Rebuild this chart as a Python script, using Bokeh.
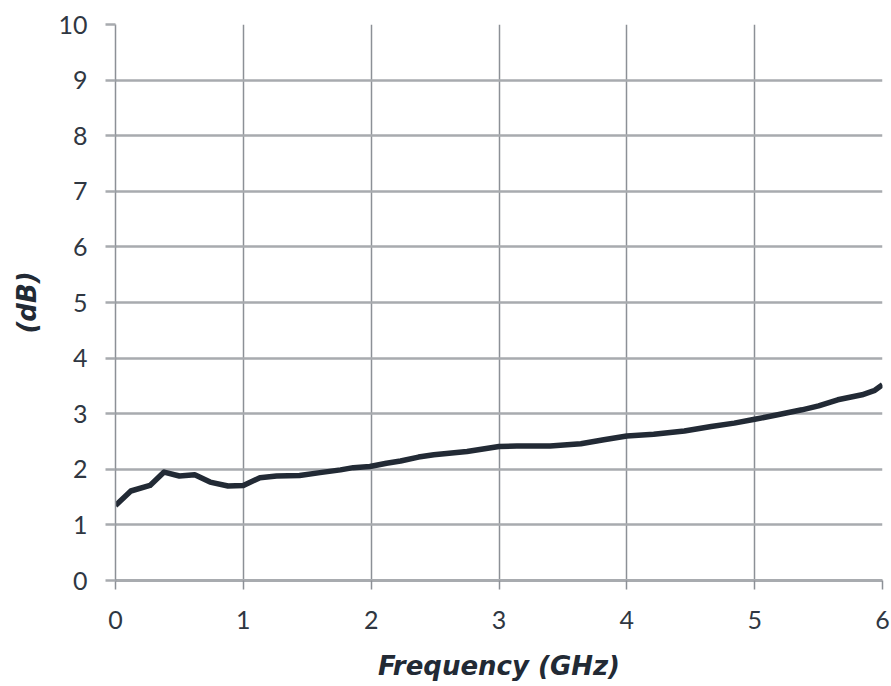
from bokeh.plotting import figure
from bokeh.models import Range1d, FixedTicker
from bokeh.embed import file_html
from bokeh.resources import INLINE

freq_ghz = [0.0, 0.12, 0.27, 0.38, 0.5, 0.62, 0.74, 0.88, 1.0, 1.13, 1.26, 1.44,
            1.6, 1.76, 1.86, 1.99, 2.12, 2.23, 2.37, 2.49, 2.75, 3.0, 3.14, 3.4,
            3.64, 3.82, 4.0, 4.21, 4.45, 4.66, 4.84, 5.0, 5.18, 5.37, 5.5, 5.65,
            5.84, 5.94, 6.0]
noise_db = [1.35, 1.61, 1.71, 1.95, 1.88, 1.9, 1.77, 1.70, 1.71, 1.85, 1.88, 1.89,
            1.94, 1.99, 2.03, 2.05, 2.11, 2.15, 2.22, 2.26, 2.32, 2.41, 2.42, 2.42,
            2.46, 2.53, 2.6, 2.63, 2.69, 2.77, 2.83, 2.9, 2.98, 3.07, 3.14, 3.25,
            3.34, 3.42, 3.52]
x_ticks = [0, 1, 2, 3, 4, 5, 6]
y_ticks = [0, 1, 2, 3, 4, 5, 6, 7, 8, 9, 10]

p = figure(width=891, height=686, output_backend="svg", toolbar_location=None,
           x_range=Range1d(0, 6), y_range=Range1d(0, 10),
           min_border_left=115, min_border_right=9, min_border_top=24,
           min_border_bottom=106)
p.outline_line_color = None
p.background_fill_color = "white"
p.border_fill_color = "white"

p.line(freq_ghz, noise_db, line_color="#222a35", line_width=5.5, line_join="round")

for ax in (p.xaxis[0], p.yaxis[0]):
    ax.major_label_text_font = "Lato"
    ax.major_label_text_font_size = "25px"
    ax.major_label_text_color = "#2f3742"
    ax.minor_tick_line_color = None
    ax.axis_label_text_font = "DejaVu Sans"
    ax.axis_label_text_font_style = "bold italic"
    ax.axis_label_text_font_size = "26px"
    ax.axis_label_text_color = "#222a35"

p.xaxis.ticker = FixedTicker(ticks=x_ticks)
p.yaxis.ticker = FixedTicker(ticks=y_ticks)
p.xaxis.axis_label = "Frequency (GHz)"
p.yaxis.axis_label = "(dB)"

p.xaxis.axis_line_color = "#a8abaf"
p.xaxis.axis_line_width = 3
p.xaxis.major_tick_line_color = "#8c9096"
p.xaxis.major_tick_line_width = 1.5
p.xaxis.major_tick_out = 9
p.xaxis.major_tick_in = 0
p.xaxis.major_label_standoff = 21
p.xaxis.axis_label_standoff = 19

p.yaxis.axis_line_color = "#8c9096"
p.yaxis.axis_line_width = 1.5
p.yaxis.major_tick_line_color = "#a8abaf"
p.yaxis.major_tick_line_width = 2.5
p.yaxis.major_tick_out = 10
p.yaxis.major_tick_in = 0
p.yaxis.major_label_standoff = 18
p.yaxis.axis_label_standoff = 13

p.xgrid.grid_line_color = "#8c9096"
p.xgrid.grid_line_width = 1.5
p.ygrid.grid_line_color = "#a8abaf"
p.ygrid.grid_line_width = 2.5

open("out.html", "w").write(file_html(p, INLINE))
